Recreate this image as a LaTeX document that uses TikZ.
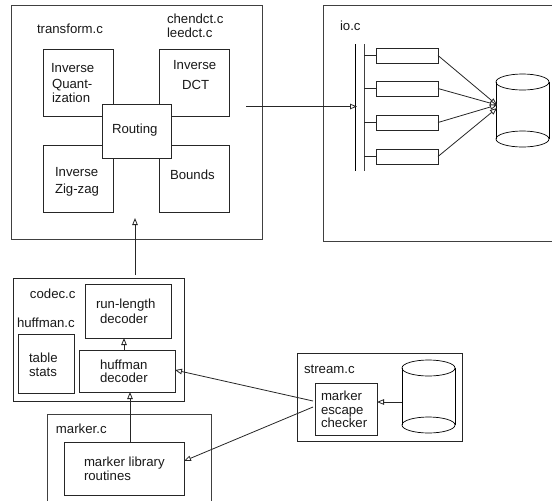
\documentclass[tikz,border=0pt]{standalone}
\usepackage{fontspec}
\setmainfont{Liberation Sans}
\usetikzlibrary{arrows.meta,shapes.geometric}
\tikzset{
  box/.style={draw=black!85,line width=0.9pt,rectangle,inner sep=0pt,outer sep=0pt,anchor=north west,fill=white},
  lbl/.style={anchor=west,inner sep=0pt,outer sep=0pt,font=\fontsize{13.2pt}{13.6pt}\selectfont,text=black!90},
  wire/.style={draw=black!85,line width=0.8pt},
  flow/.style={wire,-{Triangle[open,fill=white,length=7pt,width=5.5pt]}},
  cylcap/.style={draw=black,line width=0.7pt,ellipse,inner sep=0pt,outer sep=0pt,minimum width=53pt,minimum height=16pt},
  cylside/.style={draw=black,line width=0.7pt},
  bus/.style={draw=black,line width=0.9pt},
  frameline/.style={draw=black!75,line width=1pt}
}
\begin{document}
\begin{tikzpicture}[x=1pt,y=-1pt]
\useasboundingbox (0,0) rectangle (552,501);
% transform
\node[box,draw=black!75,minimum width=251pt,minimum height=234pt] (transform) at (11,5) {};
\node[box,minimum width=70pt,minimum height=67pt] (quant) at (43,49) {};
\node[box,minimum width=70pt,minimum height=67pt] (dct) at (159,49) {};
\node[box,minimum width=70pt,minimum height=67pt] (zig) at (43,145) {};
\node[box,minimum width=70pt,minimum height=67pt] (bounds) at (159,145) {};
\node[box,minimum width=69pt,minimum height=54pt] (routing) at (102,104) {};
\node[lbl] (t1) at (37,29) {transform.c};
\node[lbl] (t2) at (167,19) {chendct.c};
\node[lbl] (t3) at (167,33) {leedct.c};
\node[lbl] (t4) at (51,68) {Inverse};
\node[lbl] (t5) at (52,85) {Quant-};
\node[lbl] (t6) at (52,98) {ization};
\node[lbl] (t7) at (173,65) {Inverse};
\node[lbl] (t8) at (182,85) {DCT};
\node[lbl] (t9) at (112,130) {Routing};
\node[lbl] (t10) at (55,172) {Inverse};
\node[lbl] (t11) at (55,190) {Zig-zag};
\node[lbl] (t12) at (170,175) {Bounds};
% io
\draw[frameline] (552,5) -| (323,241) -- (552,241);
\node[lbl] (iolbl) at (340,26) {io.c};
\coordinate (busAt) at (355.7,44);
\coordinate (busAb) at (355.7,171);
\coordinate (busBt) at (364,44);
\coordinate (busBb) at (364,171);
\draw[bus] (busAt) -- (busAb);
\draw[bus,draw=black!75] (busBt) -- (busBb);
\node[box,minimum width=62pt,minimum height=15pt] (r1) at (376,48) {};
\node[box,minimum width=62pt,minimum height=15pt] (r2) at (376,81) {};
\node[box,minimum width=62pt,minimum height=15pt] (r3) at (376,115) {};
\node[box,minimum width=62pt,minimum height=15pt] (r4) at (376,149) {};
\foreach \r in {r1,r2,r3,r4}{\draw[wire] (\r.west) -- (\r.west -| busBt);}
\node[cylcap] (c1t) at (522.5,82) {};
\node[cylcap] (c1b) at (522.5,139) {};
\draw[cylside] (c1t.west) -- (c1b.west) (c1t.east) -- (c1b.east);
\coordinate (dbin) at (497,105);
\coordinate (dbinb) at (497,108);
\draw[flow] (r1.east) -- (dbin);
\draw[flow] (r2.east) -- (dbin);
\draw[flow] (r3.east) -- (dbin);
\draw[flow] (r4.east) -- (dbinb);
\coordinate (hstart) at (246,106.5);
\coordinate (hend) at (357,106.5);
\draw[flow] (hstart) -- (hend);
% codec
\node[box,minimum width=171pt,minimum height=123pt] (codec) at (13,278) {};
\node[box,minimum width=86pt,minimum height=54pt] (rl) at (85,284) {};
\node[box,minimum width=96pt,minimum height=42pt] (hd) at (79,350) {};
\node[box,minimum width=56pt,minimum height=59pt] (ts) at (18,334) {};
\node[lbl] (c1) at (30,294) {codec.c};
\node[lbl] (c2) at (17,323) {huffman.c};
\node[lbl] (c3) at (29,358) {table};
\node[lbl] (c4) at (29,372) {stats};
\node[lbl] (c5) at (96,305) {run-length};
\node[lbl] (c6) at (100,319) {decoder};
\node[lbl] (c7) at (100,365) {huffman};
\node[lbl] (c8) at (100,378) {decoder};
% marker
\draw[frameline] (47,501) |- (211,414) -- (211,501);
\node[box,minimum width=120pt,minimum height=53pt] (ml) at (64,442) {};
\node[lbl] (m1) at (56,429) {marker.c};
\node[lbl] (m2) at (84,463) {marker library};
\node[lbl] (m3) at (84,476) {routines};
% stream
\node[box,minimum width=165pt,minimum height=88pt] (stream) at (297,353) {};
\node[box,minimum width=62pt,minimum height=52pt] (mec) at (315,383) {};
\node[lbl] (s1) at (304,369) {stream.c};
\node[lbl,align=left] (s2) at (321,409.5) {marker\\escape\\checker};
\node[cylcap] (c2t) at (428.5,368) {};
\node[cylcap] (c2b) at (428.5,425) {};
\draw[cylside] (c2t.west) -- (c2b.west) (c2t.east) -- (c2b.east);
% connectors
\coordinate (xrl) at (124,0);
\coordinate (xhd) at (130,0);
\coordinate (codecout) at (135,275);
\coordinate (transin) at (135,218);
\draw[flow] (codecout) -- (transin);
\draw[flow] (xrl |- hd.north) -- (xrl |- rl.south);
\draw[flow] (xhd |- ml.north) -- (xhd |- hd.south);
\coordinate (cylout) at (402,402);
\draw[flow] (cylout) -- (cylout -| mec.east);
\coordinate (mecA) at (313,401);
\coordinate (mecB) at (313,407);
\coordinate (hdin) at (175,370);
\coordinate (mlin) at (184,461);
\draw[flow] (mecA) -- (hdin);
\draw[flow] (mecB) -- (mlin);
\end{tikzpicture}
\end{document}
